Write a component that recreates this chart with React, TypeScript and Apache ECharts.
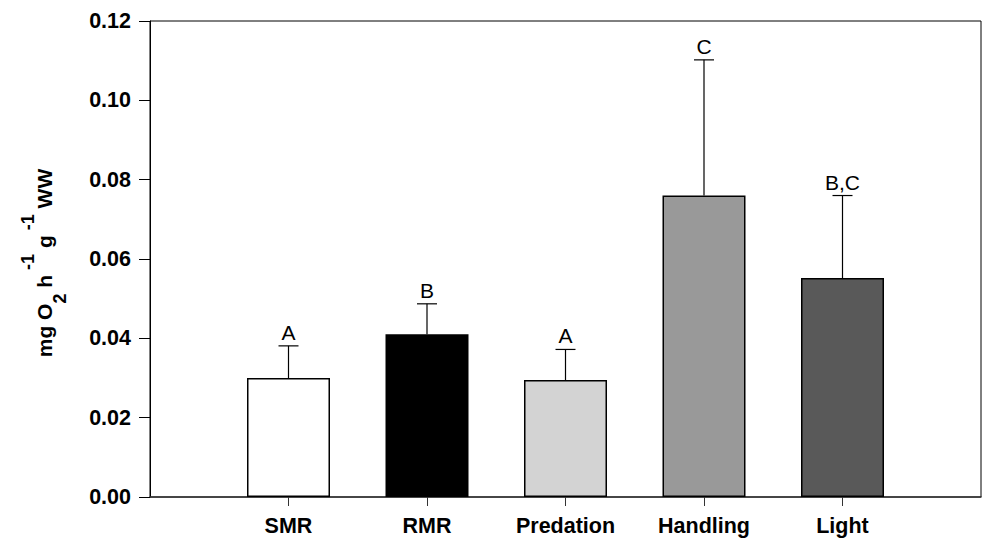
import React, { useEffect, useRef } from "react";
import * as echarts from "echarts";

const categories = ["", "SMR", "RMR", "Predation", "Handling", "Light", ""];
const means = [null, 0.0300, 0.0410, 0.0295, 0.0760, 0.0552, null];
const uppers = [null, 0.0381, 0.0487, 0.0372, 0.1102, 0.0760, null];
const letters = ["", "A", "B", "A", "C", "B,C", ""];
const barColors = ["#ffffff", "#ffffff", "#000000", "#d3d3d3", "#999999", "#595959", "#ffffff"];
const yTicks = { min: 0, max: 0.12, interval: 0.02 };

const FONT = "'Liberation Sans', Arial, sans-serif";

export default function App() {
  const ref = useRef<HTMLDivElement>(null);
  useEffect(() => {
    if (!ref.current) return;
    const chart = echarts.init(ref.current, null, { renderer: "svg" });
    const barData = means.map((v, i) =>
      v == null
        ? null
        : { value: v, itemStyle: { color: barColors[i], borderColor: "#000", borderWidth: 1.5 } }
    );
    const errData: any[] = [];
    means.forEach((v, i) => {
      if (v != null) errData.push([i, v, uppers[i] as number]);
    });
    const errLetters = letters.filter((_, i) => means[i] != null);
    chart.setOption({
      animation: false,
      backgroundColor: "#ffffff",
      grid: {
        left: 150,
        right: 3,
        top: 21,
        bottom: 43,
        show: true,
        borderColor: "#000",
        borderWidth: 1,
        backgroundColor: "transparent",
      },
      xAxis: {
        type: "category",
        data: categories,
        boundaryGap: false,
        axisLine: { lineStyle: { color: "#333", width: 1.5 } },
        axisTick: {
          show: true,
          length: 9,
          interval: (i: number) => i >= 1 && i <= 5,
          lineStyle: { color: "#333", width: 1 },
        },
        axisLabel: {
          interval: 0,
          margin: 18,
          fontFamily: FONT,
          fontWeight: "bold",
          fontSize: 21.5,
          color: "#000",
        },
        splitLine: { show: false },
      },
      yAxis: {
        type: "value",
        min: yTicks.min,
        max: yTicks.max,
        interval: yTicks.interval,
        axisLine: { show: true, lineStyle: { color: "#000", width: 1 } },
        axisTick: { show: true, length: 11, lineStyle: { color: "#000" } },
        axisLabel: {
          margin: 19,
          fontFamily: FONT,
          fontWeight: "bold",
          fontSize: 21.5,
          color: "#000",
          formatter: (v: number) => v.toFixed(2),
        },
        splitLine: { show: false },
      },
      graphic: [
        {
          type: "text",
          x: 44,
          y: 263,
          rotation: Math.PI / 2,
          style: {
            text: "{m|mg O}{sub|2}{m| h}{sup| -1}{m| g}{sup| -1}{m| WW}",
            align: "center",
            verticalAlign: "middle",
            fill: "#000",
            rich: {
              m: { fontFamily: FONT, fontWeight: "bold", fontSize: 21, lineHeight: 50, fill: "#000" },
              sup: { fontFamily: FONT, fontWeight: "bold", fontSize: 18, lineHeight: 18, verticalAlign: "top", fill: "#000" },
              sub: { fontFamily: FONT, fontWeight: "bold", fontSize: 18, lineHeight: 26, verticalAlign: "bottom", fill: "#000" },
            },
          },
        },
      ],
      series: [
        {
          type: "bar",
          data: barData,
          barWidth: 83,
          z: 2,
        },
        {
          type: "custom",
          z: 3,
          data: errData,
          renderItem: (params: any, api: any) => {
            const idx = api.value(0);
            const top = api.coord([idx, api.value(1)]);
            const up = api.coord([idx, api.value(2)]);
            const cap = 10;
            return {
              type: "group",
              children: [
                {
                  type: "line",
                  shape: { x1: top[0], y1: top[1], x2: up[0], y2: up[1] },
                  style: { stroke: "#000", lineWidth: 1.2 },
                },
                {
                  type: "line",
                  shape: { x1: up[0] - cap, y1: up[1], x2: up[0] + cap, y2: up[1] },
                  style: { stroke: "#000", lineWidth: 1.2 },
                },
                {
                  type: "text",
                  style: {
                    text: errLetters[params.dataIndex],
                    x: up[0],
                    y: up[1] - 3,
                    align: "center",
                    verticalAlign: "bottom",
                    fontFamily: FONT,
                    fontSize: 21,
                    fill: "#000",
                  },
                },
              ],
            };
          },
        },
      ],
    });
    return () => chart.dispose();
  }, []);
  return (
    <div
      ref={ref}
      style={{ position: "fixed", left: 0, top: 0, width: 984, height: 540, background: "#fff" }}
    />
  );
}
